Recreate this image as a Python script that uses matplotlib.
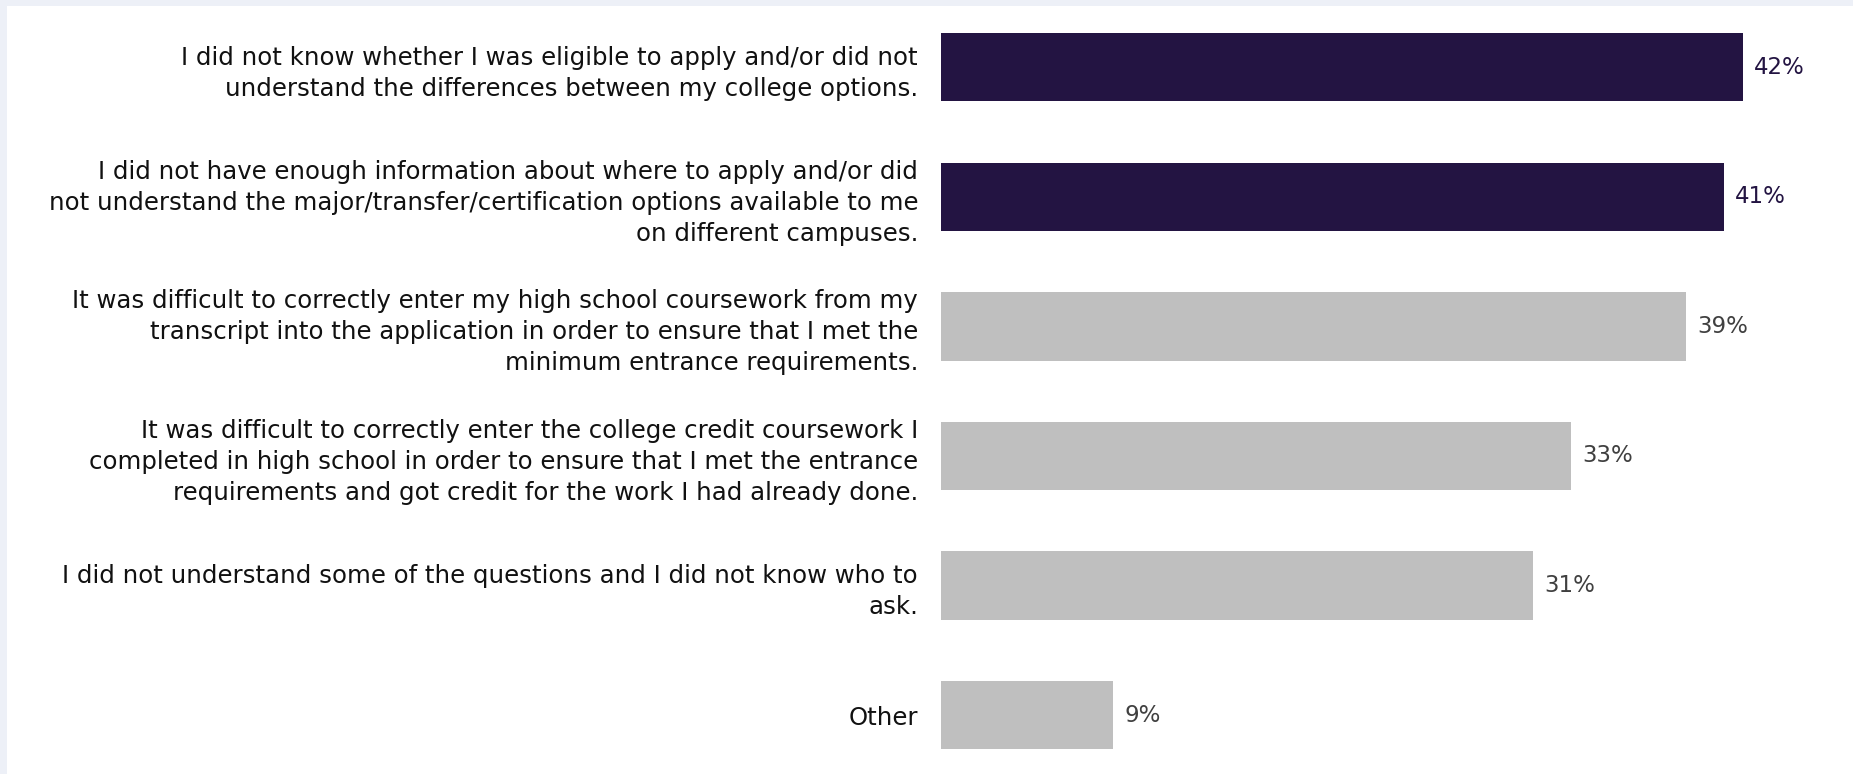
import numpy as np
import matplotlib.pyplot as plt
from matplotlib.patches import Rectangle

plt.rcParams['font.family'] = ['DejaVu Sans']

categories = [
    "I did not know whether I was eligible to apply and/or did not\n"
    "understand the differences between my college options.",
    "I did not have enough information about where to apply and/or did\n"
    "not understand the major/transfer/certification options available to me\n"
    "on different campuses.",
    "It was difficult to correctly enter my high school coursework from my\n"
    "transcript into the application in order to ensure that I met the\n"
    "minimum entrance requirements.",
    "It was difficult to correctly enter the college credit coursework I\n"
    "completed in high school in order to ensure that I met the entrance\n"
    "requirements and got credit for the work I had already done.",
    "I did not understand some of the questions and I did not know who to\n"
    "ask.",
    "Other",
]
values = [42, 41, 39, 33, 31, 9]
highlight = [True, True, False, False, False, False]

PURPLE = '#231442'
GRAY = '#BFBFBF'
FRAME = '#EDF0F7'

W, H = 1853, 774
fig = plt.figure(figsize=(W / 100, H / 100), dpi=100)
fig.patch.set_facecolor('white')

# thin light frame along the top and left edges
fig.patches.append(Rectangle((0, 1 - 6 / H), 1, 6 / H, transform=fig.transFigure,
                             facecolor=FRAME, edgecolor='none', zorder=0))
fig.patches.append(Rectangle((0, 0), 7 / W, 1, transform=fig.transFigure,
                             facecolor=FRAME, edgecolor='none', zorder=0))

px_per_unit = 19.1
ax_left, ax_right = 941, 1840
ax_top, ax_bot = 28.3, 753.9
ax = fig.add_axes([ax_left / W, (H - ax_bot) / H,
                   (ax_right - ax_left) / W, (ax_bot - ax_top) / H])
ax.set_facecolor('none')

y = np.arange(len(values))
colors = [PURPLE if h else GRAY for h in highlight]
ax.barh(y, values, height=0.528, color=colors, edgecolor='none')

ax.set_xlim(0, (ax_right - ax_left) / px_per_unit)
ax.set_ylim(len(values) - 1 + 0.3, -0.3)

ax.set_yticks(y)
ax.set_yticklabels(categories, fontsize=17.6, color='#111111', linespacing=1.36)
ax.tick_params(axis='y', length=0, pad=16.5)
ax.set_xticks([])
for s in ax.spines.values():
    s.set_visible(False)

for yi, v, h in zip(y, values, highlight):
    ax.annotate(f'{v}%', xy=(v, yi), xytext=(8, 0), textcoords='offset points',
                va='center', ha='left', fontsize=16.5,
                color=PURPLE if h else '#404040')

fig.savefig('out.png', dpi=100)
